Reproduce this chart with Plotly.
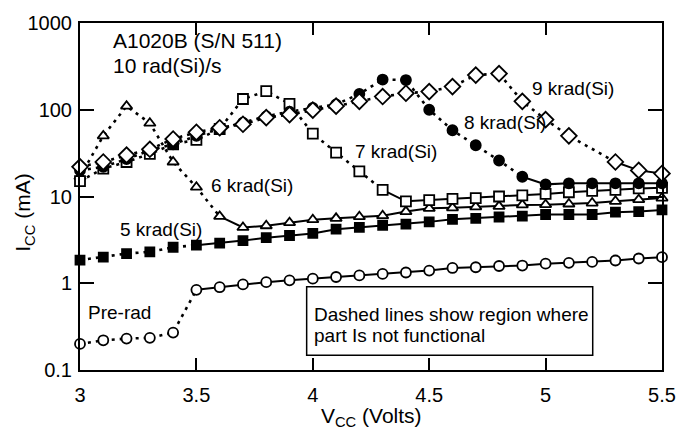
import plotly.graph_objects as go

# ---------------- data ----------------
vcc = [3.0, 3.1, 3.2, 3.3, 3.4, 3.5, 3.6, 3.7, 3.8, 3.9, 4.0, 4.1, 4.2,
       4.3, 4.4, 4.5, 4.6, 4.7, 4.8, 4.9, 5.0, 5.1, 5.2, 5.3, 5.4, 5.5]

pre_rad = [0.20, 0.22, 0.23, 0.235, 0.27, 0.84, 0.90, 0.97, 1.03, 1.08, 1.13, 1.18, 1.23,
           1.28, 1.33, 1.40, 1.50, 1.53, 1.58, 1.60, 1.68, 1.72, 1.76, 1.83, 1.93, 2.0]
krad5 = [1.85, 2.0, 2.2, 2.3, 2.6, 2.75, 2.9, 3.1, 3.35, 3.55, 3.75, 4.2, 4.4,
         4.65, 4.8, 5.1, 5.45, 5.6, 5.8, 5.95, 6.2, 6.2, 6.2, 6.6, 6.7, 7.0]
krad6 = [17, 50, 110, 70, 25, 12.8, 5.9, 4.4, 4.6, 5.0, 5.4, 5.6, 5.85,
         6.0, 6.7, 7.3, 7.4, 7.6, 7.7, 8.0, 8.05, 8.2, 8.4, 8.8, 9.2, 9.6]
krad7 = [15, 21, 25, 31, 40, 45, 60, 133, 164, 117, 53, 32, 19.5,
         11.9, 8.8, 9.1, 9.4, 9.6, 10.0, 10.3, 10.7, 11.2, 11.6, 11.9, 12.4, 12.6]
krad8 = [20, 22, 27, 34, 40, 50, 60, 71, 84, 95, 105, 115, 152,
         223, 220, 100, 58, 39, 26, 16.9, 13.8, 14.2, 14.2, 14.2, 14.2, 14.2]
krad9_vcc = [3.0, 3.1, 3.2, 3.3, 3.4, 3.5, 3.6, 3.7, 3.8, 3.9, 4.0, 4.1, 4.2,
             4.3, 4.4, 4.5, 4.6, 4.7, 4.8, 4.9, 5.0, 5.1, 5.3, 5.4, 5.5]
krad9 = [22, 25, 30, 35, 46, 55, 62, 68, 81, 88, 99, 110, 125,
         142, 155, 162, 185, 251, 261, 125, 77, 50, 25, 20, 18.4]

# voltage above which the part is functional (solid line)
functional_from = {"Pre-rad": 3.5, "5 krad(Si)": 3.5, "6 krad(Si)": 3.6,
                   "7 krad(Si)": 4.3, "8 krad(Si)": 4.9, "9 krad(Si)": 5.3}

series = [
    ("Pre-rad", vcc, pre_rad, "circle", "white", 10),
    ("5 krad(Si)", vcc, krad5, "square", "black", 9),
    ("6 krad(Si)", vcc, krad6, "triangle-up", "white", 10),
    ("7 krad(Si)", vcc, krad7, "square", "white", 10),
    ("8 krad(Si)", vcc, krad8, "circle", "black", 10),
    ("9 krad(Si)", krad9_vcc, krad9, "diamond", "white", 12),
]

FONT = "Liberation Sans, Arial, Helvetica, sans-serif"
L, R, T, B = 80, 20, 16, 68
W, H = 688, 438
PW, PH = W - L - R, H - T - B


def px(x):
    return (x - L) / PW


def py(y):
    return (H - B - y) / PH


fig = go.Figure()

# lines first
for name, xs, ys, sym, fill, size in series:
    cut = functional_from[name]
    xd = [x for x in xs if x <= cut + 1e-9]
    yd = ys[:len(xd)]
    xs_ = [x for x in xs if x >= cut - 1e-9]
    ys_ = ys[len(xs) - len(xs_):]
    fig.add_trace(go.Scatter(x=xd, y=yd, mode="lines", showlegend=False, cliponaxis=False,
                             line=dict(color="black", width=2.6, dash="3px,5px")))
    fig.add_trace(go.Scatter(x=xs_, y=ys_, mode="lines", showlegend=False, cliponaxis=False,
                             line=dict(color="black", width=2)))

# markers on top
for name, xs, ys, sym, fill, size in series:
    fig.add_trace(go.Scatter(x=xs, y=ys, mode="markers", name=name, showlegend=False,
                             cliponaxis=False,
                             marker=dict(symbol=sym, size=size, color=fill,
                                         line=dict(color="black", width=1.8))))

axis_common = dict(showgrid=False, zeroline=False, showline=True, linecolor="black",
                   linewidth=2, mirror="allticks", ticks="inside", tickcolor="black",
                   tickwidth=1.5, tickfont=dict(family=FONT, size=20, color="black"))

fig.update_xaxes(range=[3, 5.5], tickvals=[3, 3.5, 4, 4.5, 5, 5.5],
                 ticktext=["3", "3.5", "4", "4.5", "5", "5.5"], ticklen=12,
                 ticklabelstandoff=6, **axis_common)
fig.update_yaxes(type="log", range=[-1, 3], tickvals=[0.1, 1, 10, 100, 1000],
                 ticktext=["0.1", "1", "10", "100", "1000"], ticklen=14,
                 ticklabelstandoff=2, **axis_common)

ann = []


def text(s, x, y, size=18, xanchor="left", angle=0):
    ann.append(dict(text=s, x=px(x), y=py(y), xref="paper", yref="paper",
                    xanchor=xanchor, yanchor="middle", showarrow=False, textangle=angle,
                    font=dict(family=FONT, size=size, color="black")))


text("A1020B (S/N 511)", 111, 34, 21)
text("10 rad(Si)/s", 111, 59, 21)
text("Pre-rad", 86, 311, 19)
text("5 krad(Si)", 118, 227, 19)
text("6 krad(Si)", 210, 182, 19)
text("7 krad(Si)", 356, 147, 19)
text("8 krad(Si)", 466, 117, 19)
text("9 krad(Si)", 535, 83, 19)
text("Dashed lines show region where", 314, 313, 19)
text("part Is not functional", 314, 335, 19)
text("I<sub>CC</sub> (mA)", 24, 210, 21, xanchor="center", angle=-90)
text("V<sub>CC</sub> (Volts)", 375, 418, 21, xanchor="center")

fig.update_layout(
    width=W, height=H, margin=dict(l=L, r=R, t=T, b=B),
    paper_bgcolor="white", plot_bgcolor="white", annotations=ann,
    shapes=[dict(type="rect", xref="paper", yref="paper",
                 x0=px(309), x1=px(598), y0=py(355), y1=py(285),
                 line=dict(color="black", width=1.5), fillcolor="white", layer="below")],
)

fig.write_html("out.html")
